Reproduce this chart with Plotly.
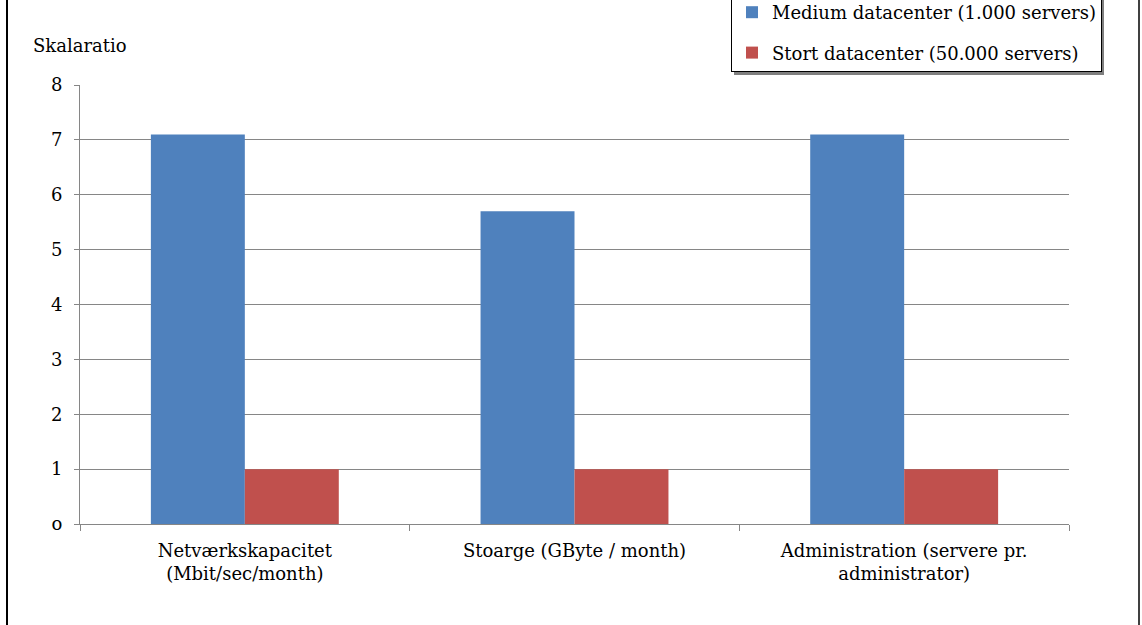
import plotly.graph_objects as go

# Chart data
categories = [
    "Netværkskapacitet<br>(Mbit/sec/month)",
    "Stoarge (GByte / month)",
    "Administration (servere pr.<br>administrator)",
]
series_names = ["Medium datacenter (1.000 servers)", "Stort datacenter (50.000 servers)"]
medium_values = [7.1, 5.7, 7.1]
stort_values = [1, 1, 1]
y_ticks = [0, 1, 2, 3, 4, 5, 6, 7, 8]
y_tick_labels = ["o", "1", "2", "3", "4", "5", "6", "7", "8"]

FONT = "DejaVu Serif"
FS = 18
GRID = "#868686"

fig = go.Figure()
fig.add_trace(go.Bar(
    x=categories, y=medium_values, name=series_names[0],
    marker=dict(color="#4F81BD", line=dict(width=0)),
    legendgroup="a",
))
fig.add_trace(go.Bar(
    x=categories, y=stort_values, name=series_names[1],
    marker=dict(color="#C0504D", line=dict(width=0)),
    legendgroup="b",
))

W, H = 1142, 625
L, R, T, B = 80, 73, 85, 101
pw, ph = W - L - R, H - T - B

def px_x(p):
    return (p - L) / pw

def px_y(p):
    return (H - B - p) / ph

LEG_BOTTOM = 72

fig.update_layout(
    width=W, height=H,
    margin=dict(l=L, r=R, t=T, b=B, pad=0, autoexpand=False),
    paper_bgcolor="white", plot_bgcolor="white",
    barmode="group", bargap=0.43, bargroupgap=0,
    font=dict(family=FONT, size=FS, color="black"),
    showlegend=True,
    legend=dict(
        x=px_x(731), y=px_y(LEG_BOTTOM), xanchor="left", yanchor="bottom",
        bgcolor="white", bordercolor="black", borderwidth=1,
        tracegroupgap=14, font=dict(family=FONT, size=FS),
    ),
    xaxis=dict(
        showline=True, linecolor=GRID, linewidth=1,
        ticks="outside", tickson="boundaries", ticklen=6, tickcolor=GRID,
        tickfont=dict(family=FONT, size=FS, color="black"),
        ticklabelstandoff=10,
        showgrid=False,
    ),
    yaxis=dict(
        range=[0, 8], tickvals=y_ticks, ticktext=y_tick_labels,
        showline=True, linecolor=GRID, linewidth=1,
        ticks="outside", ticklen=5, tickcolor=GRID,
        ticklabelstandoff=8,
        showgrid=True, gridcolor=GRID, gridwidth=1,
        zeroline=False,
        tickfont=dict(family=FONT, size=FS, color="black"),
    ),
    annotations=[dict(
        text="Skalaratio", xref="paper", yref="paper",
        x=px_x(31), y=px_y(46), xanchor="left", yanchor="middle",
        showarrow=False, font=dict(family=FONT, size=FS, color="black"),
    )],
    shapes=[
        # outer frame, left and right edges
        dict(type="line", xref="paper", yref="paper",
             x0=px_x(7), x1=px_x(7), y0=px_y(H), y1=px_y(0),
             line=dict(color="black", width=2)),
        dict(type="line", xref="paper", yref="paper",
             x0=px_x(1139), x1=px_x(1139), y0=px_y(H), y1=px_y(0),
             line=dict(color="black", width=1.5)),
        # drop shadow under the legend box
        dict(type="rect", xref="paper", yref="paper", layer="above",
             x0=px_x(734), x1=px_x(1104), y0=px_y(LEG_BOTTOM + 3), y1=px_y(-10),
             fillcolor="#7f7f7f", line=dict(width=0)),
    ],
)

fig.write_html("out.html")
